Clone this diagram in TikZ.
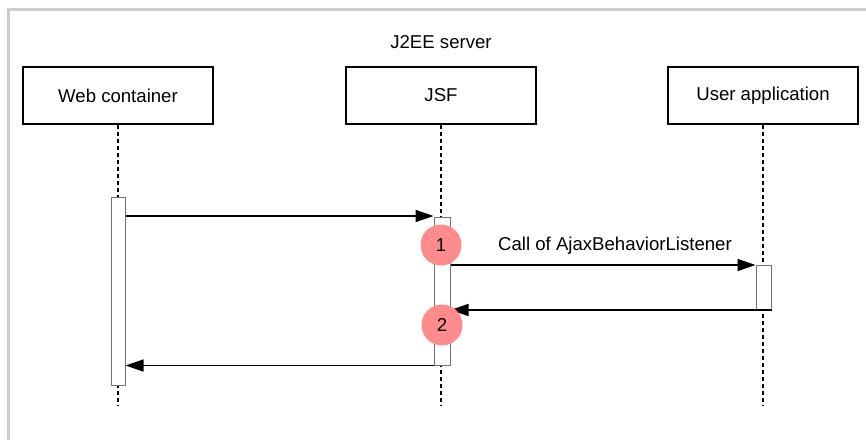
\documentclass[tikz,border=0pt]{standalone}
\usepackage{fontspec}
\setmainfont{Liberation Sans}
\usetikzlibrary{arrows.meta}
\begin{document}
\begin{tikzpicture}[x=1pt,y=-1pt,
  lbl/.style={font=\fontsize{18.6}{22}\selectfont},
  actor/.style={draw,line width=1.8pt,minimum width=190pt,minimum height=57pt,lbl},
  life/.style={line width=1.6pt,dash pattern=on 4pt off 3pt},
  actbar/.style={draw=black!55,fill=white,line width=1pt},
  msg/.style={line width=1.5pt,-{Triangle[length=18pt,width=12pt]}},
  num/.style={circle,fill=red!45!white,minimum size=41pt,inner sep=0pt,lbl}]
\useasboundingbox (0,0) rectangle (866,440);
\draw[black!20,line width=3pt] (8,440) -- (8,9.5) -- (866,9.5);
\node[lbl] (title) at (441,42) {J2EE server};
\node[actor] (web) at (118,95.5) {Web container};
\node[actor] (jsf) at (441,95.5) {JSF};
\node[actor] (usr) at (763,95.5) {User application};
\coordinate (webend) at (118,405);
\coordinate (jsfend) at (441,405);
\coordinate (usrend) at (763,405);
\draw[life] (web.south) -- (webend);
\draw[life] (jsf.south) -- (jsfend);
\draw[life] (usr.south) -- (usrend);
\node[actbar,minimum width=14pt,minimum height=188pt,inner sep=0pt] (wbar) at (118,291) {};
\node[actbar,minimum width=16pt,minimum height=148pt,inner sep=0pt] (jbar) at (442,291) {};
\node[actbar,minimum width=15pt,minimum height=45pt,inner sep=0pt] (ubar) at (763.5,287.5) {};
\coordinate (a1s) at (wbar.east |- 0,216);
\coordinate (a1e) at (jbar.west |- 0,216);
\draw[msg] (a1s) -- (a1e);
\coordinate (a2s) at (jbar.east |- 0,265);
\coordinate (a2e) at (ubar.west |- 0,265);
\draw[msg] (a2s) -- (a2e);
\node[lbl] (a2lbl) at (615,246) {Call of AjaxBehaviorListener};
\coordinate (a3s) at (ubar.east |- 0,310);
\coordinate (a3e) at (jbar.east |- 0,310);
\draw[msg] (a3s) -- (a3e);
\coordinate (a4s) at (jbar.west |- 0,365.5);
\coordinate (a4e) at (wbar.east |- 0,365.5);
\draw[msg] (a4s) -- (a4e);
\node[num] (n1) at (441,245) {1};
\node[num] (n2) at (442,325) {2};
\end{tikzpicture}
\end{document}
